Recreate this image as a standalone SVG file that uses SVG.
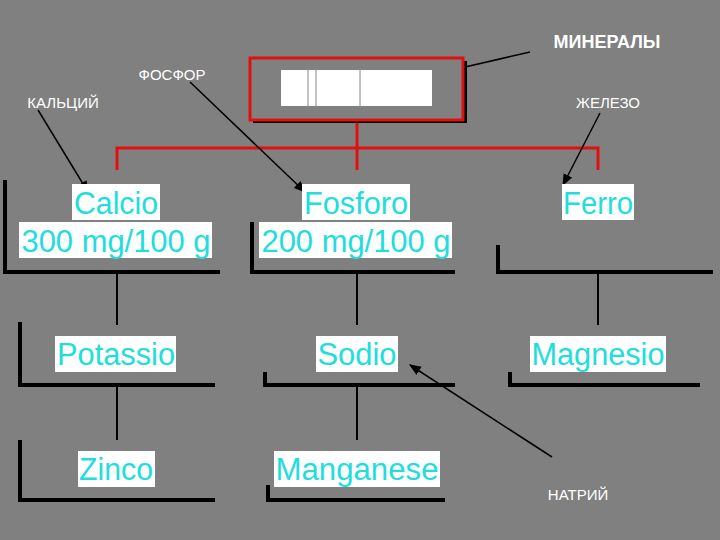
<svg xmlns="http://www.w3.org/2000/svg" width="720" height="540" viewBox="0 0 720 540">
<defs>
<marker id="ah" viewBox="0 0 10 10" refX="9" refY="5" markerWidth="8" markerHeight="8" orient="auto"><path d="M0,1 L10,5 L0,9 z" fill="#000"/></marker>
<style>
.t{font-family:"Liberation Sans",Arial,sans-serif;font-size:31px;fill:#22dddd;text-anchor:middle}
.bg{fill:#fff}
.br{fill:none;stroke:#000;stroke-width:4}
.lab{font-family:"Liberation Sans",Arial,sans-serif;font-size:15px;fill:#fff;text-anchor:middle}
.ar{stroke:#000;stroke-width:1.5;fill:none;marker-end:url(#ah)}
</style>
</defs>
<rect width="720" height="540" fill="#808080"/>
<g id="connectors">
<path d="M357,120 V148 M117,170 V148 H598 V170 M357,148 V170" stroke="#e01010" stroke-width="3" fill="none"/>
<path d="M117,272 V325 M357,272 V325 M598,272 V325 M117,385 V440 M357,385 V440" stroke="#000" stroke-width="2" fill="none"/>
<line class="ar" x1="530" y1="52" x2="452" y2="70"/>
<line class="ar" x1="190" y1="82" x2="305" y2="192"/>
<line class="ar" x1="38" y1="110" x2="88" y2="192"/>
<line class="ar" x1="600" y1="113" x2="563" y2="185"/>
<line class="ar" x1="552" y1="457" x2="410" y2="365"/>
</g>
<g id="top">
<rect x="253" y="61" width="214" height="62" fill="#000"/>
<rect x="250" y="58" width="213" height="62" fill="#808080" stroke="#e01010" stroke-width="3"/>
<rect x="281" y="70" width="151" height="36" fill="#fff"/>
<path d="M308,68 V108 M316,68 V108 M360,68 V108" stroke="#888" stroke-width="1"/>
</g>
<g id="calcio">
<path class="br" d="M5,180 V272 H220"/>
<rect class="bg" x="72" y="184" width="88" height="36"/><text class="t" x="116" y="214" textLength="84" lengthAdjust="spacingAndGlyphs">Calcio</text>
<rect class="bg" x="19" y="222" width="193" height="36"/><text class="t" x="116" y="252" textLength="189" lengthAdjust="spacingAndGlyphs">300 mg/100 g</text>
</g>
<g id="fosforo">
<path class="br" d="M252,222 V272 H455"/>
<rect class="bg" x="302" y="184" width="108" height="36"/><text class="t" x="356" y="214" textLength="104" lengthAdjust="spacingAndGlyphs">Fosforo</text>
<rect class="bg" x="259" y="222" width="193" height="36"/><text class="t" x="356" y="252" textLength="189" lengthAdjust="spacingAndGlyphs">200 mg/100 g</text>
</g>
<g id="ferro">
<path class="br" d="M498,245 V272 H713"/>
<rect class="bg" x="562" y="184" width="72" height="36"/><text class="t" x="598" y="214" textLength="70" lengthAdjust="spacingAndGlyphs">Ferro</text>
</g>
<g id="potassio">
<path class="br" d="M20,322 V385 H215"/>
<rect class="bg" x="55" y="336" width="121" height="36"/><text class="t" x="116" y="365" textLength="118" lengthAdjust="spacingAndGlyphs">Potassio</text>
</g>
<g id="sodio">
<path class="br" d="M265,372 V385 H455"/>
<rect class="bg" x="316" y="336" width="82" height="36"/><text class="t" x="357" y="365" textLength="79" lengthAdjust="spacingAndGlyphs">Sodio</text>
</g>
<g id="magnesio">
<path class="br" d="M510,372 V385 H700"/>
<rect class="bg" x="530" y="336" width="136" height="36"/><text class="t" x="598" y="365" textLength="133" lengthAdjust="spacingAndGlyphs">Magnesio</text>
</g>
<g id="zinco">
<path class="br" d="M20,440 V500 H215"/>
<rect class="bg" x="78" y="451" width="77" height="36"/><text class="t" x="116" y="480" textLength="74" lengthAdjust="spacingAndGlyphs">Zinco</text>
</g>
<g id="manganese">
<path class="br" d="M268,485 V500 H445"/>
<rect class="bg" x="274" y="451" width="166" height="36"/><text class="t" x="357" y="480" textLength="163" lengthAdjust="spacingAndGlyphs">Manganese</text>
</g>
<g id="labels">
<text class="lab" x="607" y="48" style="font-size:18px;font-weight:bold">МИНЕРАЛЫ</text>
<text class="lab" x="172" y="80">ФОСФОР</text>
<text class="lab" x="63" y="108">КАЛЬЦИЙ</text>
<text class="lab" x="608" y="108">ЖЕЛЕЗО</text>
<text class="lab" x="578" y="500">НАТРИЙ</text>
</g>
</svg>
